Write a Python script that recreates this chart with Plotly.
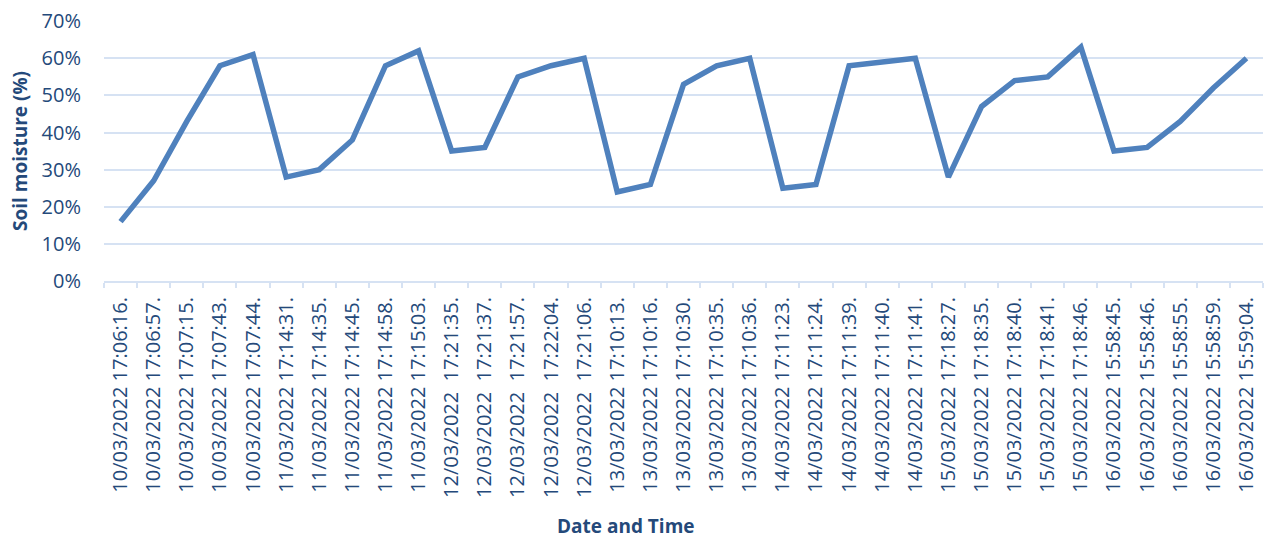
import plotly.graph_objects as go

timestamps = [
    "10/03/2022 17:06:16.", "10/03/2022 17:06:57.", "10/03/2022 17:07:15.", "10/03/2022 17:07:43.",
    "10/03/2022 17:07:44.", "11/03/2022 17:14:31.", "11/03/2022 17:14:35.", "11/03/2022 17:14:45.",
    "11/03/2022 17:14:58.", "11/03/2022 17:15:03.", "12/03/2022  17:21:35.", "12/03/2022  17:21:37.",
    "12/03/2022  17:21:57.", "12/03/2022  17:22:04.", "12/03/2022  17:21:06.", "13/03/2022 17:10:13.",
    "13/03/2022 17:10:16.", "13/03/2022 17:10:30.", "13/03/2022 17:10:35.", "13/03/2022 17:10:36.",
    "14/03/2022 17:11:23.", "14/03/2022 17:11:24.", "14/03/2022 17:11:39.", "14/03/2022 17:11:40.",
    "14/03/2022 17:11:41.", "15/03/2022 17:18:27.", "15/03/2022 17:18:35.", "15/03/2022 17:18:40.",
    "15/03/2022 17:18:41.", "15/03/2022 17:18:46.", "16/03/2022 15:58:45.", "16/03/2022 15:58:46.",
    "16/03/2022 15:58:55.", "16/03/2022 15:58:59.", "16/03/2022 15:59:04.",
]
soil_moisture = [
    0.16, 0.27, 0.43, 0.58, 0.61, 0.28, 0.30, 0.38, 0.58, 0.62,
    0.35, 0.36, 0.55, 0.58, 0.60, 0.24, 0.26, 0.53, 0.58, 0.60,
    0.25, 0.26, 0.58, 0.59, 0.60, 0.28, 0.47, 0.54, 0.55, 0.63,
    0.35, 0.36, 0.43, 0.52, 0.60,
]
y_ticks = [0, 0.1, 0.2, 0.3, 0.4, 0.5, 0.6, 0.7]

text_color = "#24497A"
grid_color = "#D6E2F3"
font_family = "Open Sans"

# the page body adds an 8px offset, so the figure is sized to fit the window
fig = go.Figure()
fig.add_trace(go.Scatter(
    x=timestamps, y=soil_moisture, mode="lines",
    line=dict(color="#4F81BD", width=5.5),
    showlegend=False, hoverinfo="x+y",
))

fig.update_layout(
    width=1264, height=531,
    margin=dict(l=96, r=9, t=13, b=258),
    paper_bgcolor="white", plot_bgcolor="white",
    font=dict(family=font_family, color=text_color),
    annotations=[
        dict(text="<b>Date and Time</b>", xref="paper", yref="paper", x=0.45, y=0,
             yshift=-245, showarrow=False, xanchor="center", yanchor="middle",
             font=dict(size=19, color=text_color)),
        dict(text="<b>Soil moisture (%)</b>", xref="paper", yref="paper", x=0, y=0.5,
             xshift=-84, textangle=-90, showarrow=False, xanchor="center", yanchor="middle",
             font=dict(size=19, color=text_color)),
    ],
)
fig.update_yaxes(
    range=[0, 0.7005], tickvals=y_ticks, tickformat=".0%",
    showgrid=True, gridcolor=grid_color, gridwidth=2,
    zeroline=False, showline=False, automargin=False,
    tickfont=dict(size=20, color=text_color),
    ticklabelstandoff=22, ticklabeloverflow="allow",
)
fig.update_xaxes(
    type="category", tickson="boundaries", ticks="outside", ticklen=5,
    tickcolor=grid_color, tickwidth=2, automargin=False,
    showgrid=False, showline=True, linecolor=grid_color, linewidth=2,
    tickangle=-90, tickfont=dict(size=20, color=text_color),
    ticklabelstandoff=6,
    range=[-0.5, len(timestamps) - 0.5],
)

fig.write_html("out.html")
